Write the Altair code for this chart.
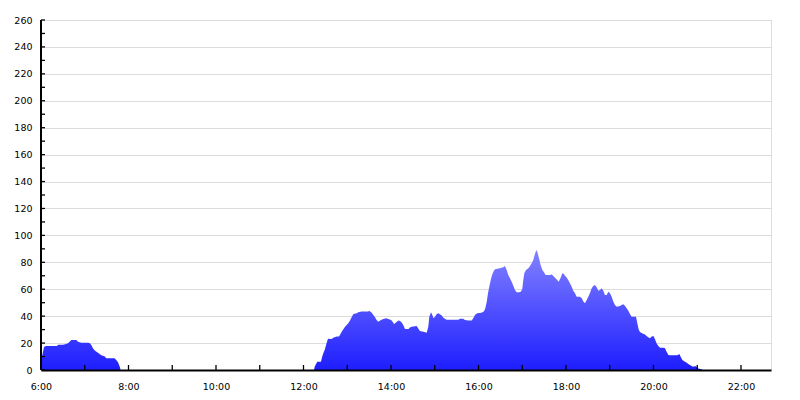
import altair as alt
import pandas as pd

# time in hours of day, value
hours = [
    6.0, 6.023, 6.046, 6.069, 6.114, 6.366, 6.389, 6.503, 6.571, 6.617, 6.693, 6.807,
    6.846, 6.922, 7.074, 7.11, 7.15, 7.19, 7.23, 7.30, 7.38, 7.46, 7.49, 7.68, 7.72,
    7.76, 7.80, 7.82, 12.24,
    12.256, 12.286, 12.316, 12.40, 12.423, 12.453, 12.49, 12.53, 12.56, 12.644, 12.68,
    12.76, 12.81, 12.834, 12.873, 12.91, 12.95, 13.024, 13.063, 13.10, 13.14, 13.216,
    13.25, 13.33, 13.48, 13.50, 13.56, 13.596, 13.634, 13.67, 13.71, 13.75, 13.81,
    13.886, 13.96, 14.016, 14.07, 14.114, 14.17, 14.206, 14.245, 14.28, 14.32, 14.40,
    14.434, 14.47, 14.587, 14.62, 14.66, 14.74, 14.816, 14.853, 14.876, 14.914, 14.945,
    14.97, 15.006, 15.045, 15.08, 15.12, 15.16, 15.196, 15.27, 15.54, 15.577, 15.65,
    15.69, 15.767, 15.844, 15.88, 15.92, 15.97, 16.07, 16.126, 16.156, 16.19, 16.217,
    16.247, 16.28, 16.31, 16.34, 16.377, 16.49, 16.567, 16.606, 16.644, 16.68, 16.72,
    16.758, 16.796, 16.834, 16.873, 16.933, 16.964, 17.0, 17.024, 17.047, 17.086, 17.14,
    17.177, 17.215, 17.253, 17.276, 17.307, 17.33, 17.354, 17.383, 17.42, 17.46, 17.497,
    17.535, 17.65, 17.673, 17.71, 17.75, 17.80, 17.833, 17.88, 17.916, 17.954, 17.977,
    18.016, 18.05, 18.09, 18.13, 18.166, 18.206, 18.244, 18.32, 18.36, 18.396, 18.434,
    18.473, 18.51, 18.55, 18.587, 18.624, 18.663, 18.70, 18.74, 18.777, 18.816, 18.853,
    18.89, 18.93, 18.967, 19.006, 19.044, 19.08, 19.12, 19.16, 19.234, 19.27, 19.31,
    19.35, 19.387, 19.424, 19.463, 19.50, 19.6, 19.63, 19.66, 19.69, 19.75, 19.806,
    19.84, 19.88, 19.92, 19.96, 20.0, 20.034, 20.07, 20.11, 20.15, 20.24, 20.263, 20.30,
    20.34, 20.377, 20.544, 20.59, 20.62, 20.66, 20.72, 20.76, 20.796, 20.834, 20.87,
    20.91, 20.95, 20.99, 21.02, 21.10, 21.12,
]
values = [
    5, 10, 13.6, 17, 17.8, 17.8, 18.8, 18.8, 19.3, 19.8, 22.3, 22.3,
    21, 20.3, 20.3, 20, 18.6, 16, 14.4, 12.9, 11, 10, 8.7, 8.7, 7.4,
    5.7, 2.5, 0, 0,
    2.5, 4.5, 6.2, 6.2, 9.4, 12.4, 15.4, 20.3, 23.3, 23, 24,
    24.8, 24.8, 26, 28.5, 30.2, 32.2, 34.7, 36.7, 39.2, 41.6, 42.1,
    42.9, 43.4, 43.4, 44, 42.6, 40.9, 39.2, 37.2, 35.9, 36.7, 37.7,
    38.4, 37.7, 36.7, 34.2, 35.2, 36.7, 36.4, 35.2, 33.4, 30.5, 30.5,
    31.5, 32.2, 32.7, 31, 29, 28.5, 27.7, 32.2, 39.6, 42.9, 40.9,
    38.4, 39.6, 41.6, 42.1, 41.4, 40.4, 38.9, 37.4, 37.4, 38.1, 38.1,
    37.2, 36.7, 36.7, 38.4, 40.9, 42.1, 42.6, 43.7, 45.8, 50.8, 57,
    61.9, 66.9, 70.6, 73, 74.8, 75.6, 76.3, 77.3, 74.3, 70.6, 68.1,
    65.6, 62.6, 59.5, 57.7, 57.7, 58.2, 60, 66.9, 71.9, 74.3, 75.6,
    77.3, 79.3, 81.8, 84.7, 87.9, 89.2, 86.7, 83, 78, 74.3, 72.6,
    70.6, 70.6, 71.1, 69.8, 68.6, 66.9, 65.6, 68.8, 71.9, 71.3, 70,
    68.8, 66.9, 64.4, 61.9, 58.9, 57, 54.5, 54.5, 53.3, 50.8, 49.5,
    52, 54.5, 57.4, 60.7, 62.4, 63.2, 61.4, 58.9, 59.5, 60.7, 58.9,
    55.7, 55.7, 58.2, 57, 54.5, 50.8, 48.3, 47, 47.5, 48.3, 48.8,
    47.5, 45.8, 44, 41.6, 39.6, 39.6, 34.7, 30.2, 28.2, 27.2, 26.3,
    25.3, 24.3, 23.5, 24.8, 25.3, 22.8, 19.8, 17.8, 16.6, 16.6, 16.1, 13.6,
    11.1, 10.9, 10.9, 11.9, 9.9, 7.4, 6.2, 5.4, 4.5, 3.7, 3,
    2.5, 3, 2, 1.2, 0.5, 0,
]

x_label_hours = [6, 8, 10, 12, 14, 16, 18, 20, 22]
x_tick_hours = list(range(7, 23))
y_label_values = list(range(0, 261, 20))
y_tick_values = list(range(0, 261, 10))

df = pd.DataFrame({"hour": hours, "value": values})
df_xt = pd.DataFrame({"hour": x_tick_hours})
df_yt = pd.DataFrame({"value": y_tick_values})

FONT = "DejaVu Sans"
xscale = alt.Scale(domain=[6, 22.686], nice=False, zero=False)
yscale = alt.Scale(domain=[0, 260], nice=False)

xaxis = alt.Axis(values=x_label_hours, labelExpr="datum.value + ':00'",
                 ticks=False, grid=False, domain=True, domainColor="#000000",
                 domainWidth=2, labelFont=FONT, labelFontSize=9.5,
                 labelColor="#000000", labelPadding=11, zindex=1,
                 labelFlush=False, labelOverlap=False, title=None)
yaxis = alt.Axis(values=y_label_values, ticks=False, grid=True,
                 gridColor="#dcdcdc", gridWidth=1, domain=False,
                 labelFont=FONT, labelFontSize=9.5, labelColor="#000000",
                 labelPadding=9, zindex=0, labelOverlap=False,
                 labelFlush=False, title=None)

grad = alt.Gradient(
    gradient="linear",
    stops=[alt.GradientStop(color="#8282ff", offset=0),
           alt.GradientStop(color="#1e1eff", offset=1)],
    x1=0, x2=0, y1=0, y2=1,
)

area = alt.Chart(df).mark_area(color=grad, opacity=1).encode(
    x=alt.X("hour:Q", scale=xscale, axis=xaxis),
    y=alt.Y("value:Q", scale=yscale, axis=yaxis),
)

xticks = alt.Chart(df_xt).mark_rule(color="#000000", strokeWidth=1.3).encode(
    x=alt.X("hour:Q", scale=xscale, axis=xaxis),
    y=alt.value(345), y2=alt.value(350),
)
yticks = alt.Chart(df_yt).mark_rule(color="#000000", strokeWidth=1.3).encode(
    y=alt.Y("value:Q", scale=yscale, axis=yaxis),
    x=alt.value(0), x2=alt.value(4),
)
yline = alt.Chart(df_xt).mark_rule(color="#000000", strokeWidth=2).encode(
    x=alt.value(0), y=alt.value(0), y2=alt.value(350),
)

chart = alt.layer(area, xticks, yticks, yline).properties(
    width=730, height=350,
    autosize=alt.AutoSizeParams(type="none"),
    padding={"left": 33, "top": 12, "right": 21, "bottom": 22},
).configure_view(strokeWidth=0).configure(background="#ffffff")

chart.save("out.html", embed_options={"renderer": "svg", "actions": False})
